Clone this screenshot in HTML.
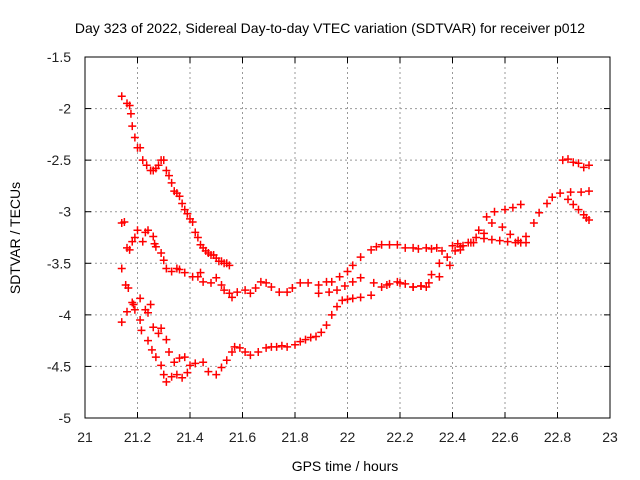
<!DOCTYPE html>
<html><head><meta charset="utf-8">
<style>
body{margin:0;background:#fff;}
svg{display:block;font-family:"Liberation Sans",sans-serif;}
</style></head>
<body>
<svg id="chart" width="640" height="480">
<rect width="640" height="480" fill="#fff"/>
<text x="330" y="33" text-anchor="middle" font-size="14" fill="#000">Day 323 of 2022, Sidereal Day-to-day VTEC variation (SDTVAR) for receiver p012</text>
<g id="grid"></g>
<g id="marks"></g>
<rect x="85" y="57" width="525" height="361" fill="none" stroke="#000" stroke-width="1"/>
<g id="ticks"></g>
<text x="345" y="471" text-anchor="middle" font-size="14">GPS time / hours</text>
<text x="0" y="0" transform="translate(20,238) rotate(-90)" text-anchor="middle" font-size="14">SDTVAR / TECUs</text>
</svg>
<script>
const xTicks=[21,21.2,21.4,21.6,21.8,22,22.2,22.4,22.6,22.8,23];
const xTickLabels=["21","21.2","21.4","21.6","21.8","22","22.2","22.4","22.6","22.8","23"];
const yTicks=[-1.5,-2,-2.5,-3,-3.5,-4,-4.5,-5];
const yTickLabels=["-1.5","-2","-2.5","-3","-3.5","-4","-4.5","-5"];

const trackAX=[21.14,21.16,21.17,21.175,21.18,21.19,21.2,21.21,21.22,21.235,21.25,21.26,21.27,21.28,21.29,21.3,21.31,21.32,21.33,21.34,21.35,21.36,21.37,21.38,21.39,21.4,21.41,21.42,21.43,21.44,21.45,21.46,21.47,21.48,21.49,21.5,21.51,21.52,21.53,21.54,21.55];
const trackAY=[-1.88,-1.95,-1.97,-2.05,-2.17,-2.28,-2.38,-2.38,-2.5,-2.55,-2.6,-2.6,-2.58,-2.55,-2.5,-2.5,-2.6,-2.65,-2.72,-2.8,-2.82,-2.85,-2.92,-2.98,-3.02,-3.07,-3.1,-3.2,-3.25,-3.32,-3.35,-3.38,-3.4,-3.42,-3.42,-3.45,-3.48,-3.48,-3.5,-3.5,-3.52];

const trackBX=[21.14,21.15,21.16,21.17,21.18,21.19,21.2,21.22,21.23,21.24,21.26,21.265,21.27,21.29,21.3,21.31,21.33,21.35,21.36,21.38,21.41,21.43,21.44,21.45,21.48,21.5,21.52,21.53,21.55,21.56,21.58,21.61,21.63,21.65,21.67,21.69,21.71,21.74,21.77,21.79,21.82,21.85,21.89,21.92,21.94,21.97,22.0,22.02,22.05,22.09,22.11,22.13,22.16,22.19,22.22,22.25,22.27,22.3,22.32,22.34,22.36,22.4,22.42,22.44,22.47,22.5,22.53,22.56,22.6,22.63,22.66];
const trackBY=[-3.11,-3.1,-3.35,-3.37,-3.29,-3.25,-3.18,-3.29,-3.2,-3.18,-3.24,-3.31,-3.34,-3.4,-3.47,-3.55,-3.58,-3.55,-3.56,-3.59,-3.63,-3.63,-3.59,-3.68,-3.69,-3.64,-3.71,-3.76,-3.79,-3.83,-3.78,-3.76,-3.79,-3.74,-3.68,-3.69,-3.73,-3.78,-3.78,-3.74,-3.69,-3.69,-3.71,-3.68,-3.68,-3.63,-3.58,-3.52,-3.44,-3.37,-3.34,-3.32,-3.32,-3.32,-3.35,-3.35,-3.36,-3.35,-3.36,-3.35,-3.38,-3.33,-3.31,-3.33,-3.3,-3.18,-3.05,-3.0,-2.98,-2.96,-2.93];

const trackCX=[21.14,21.155,21.165,21.18,21.185,21.19,21.21,21.23,21.24,21.25,21.14,21.16,21.21,21.215,21.24,21.255,21.27,21.29,21.3,21.31,21.33,21.35,21.37,21.39,21.26,21.28,21.29,21.31,21.32,21.34,21.36,21.38,21.4,21.42,21.45,21.47,21.5,21.52,21.54,21.56,21.57,21.59,21.61,21.63,21.66,21.69,21.71,21.73,21.75,21.77,21.8,21.82,21.84,21.86,21.88,21.9,21.92,21.94,21.96,21.98,22.0,22.02,22.05,22.09,22.13,22.16,22.19,22.22,22.25,22.28,22.3,22.32,22.35,22.38,22.41,22.43,22.46,22.49,22.52,22.55,22.58,22.61,22.64,22.66,22.68,22.71,22.73,22.76,22.78,22.81,22.85,22.89,22.92];
const trackCY=[-3.55,-3.71,-3.74,-3.88,-3.9,-3.95,-3.84,-3.95,-3.98,-3.9,-4.07,-3.97,-4.05,-4.15,-4.25,-4.34,-4.41,-4.49,-4.58,-4.65,-4.6,-4.58,-4.61,-4.56,-4.12,-4.18,-4.13,-4.24,-4.36,-4.46,-4.42,-4.41,-4.49,-4.47,-4.46,-4.55,-4.58,-4.51,-4.44,-4.36,-4.31,-4.32,-4.36,-4.39,-4.36,-4.32,-4.31,-4.31,-4.3,-4.31,-4.29,-4.26,-4.24,-4.22,-4.21,-4.17,-4.1,-4.0,-3.92,-3.86,-3.85,-3.84,-3.83,-3.81,-3.73,-3.7,-3.68,-3.7,-3.73,-3.72,-3.73,-3.61,-3.5,-3.44,-3.38,-3.34,-3.3,-3.25,-3.26,-3.27,-3.28,-3.29,-3.3,-3.3,-3.24,-3.11,-3.01,-2.92,-2.86,-2.82,-2.81,-2.81,-2.8];

const trackDX=[21.89,21.93,21.96,21.99,22.02,22.05,22.1,22.15,22.2,22.25,22.28,22.31,22.35,22.39,22.43,22.48,22.52,22.55,22.59,22.62,22.65,22.68];
const trackDY=[-3.79,-3.78,-3.76,-3.72,-3.68,-3.64,-3.69,-3.71,-3.69,-3.73,-3.72,-3.69,-3.63,-3.52,-3.37,-3.3,-3.21,-3.11,-3.15,-3.22,-3.28,-3.3];

const trackEX=[22.84,22.86,22.88,22.9,22.91,22.92];
const trackEY=[-2.88,-2.93,-2.98,-3.03,-3.06,-3.08];

const trackFX=[22.82,22.84,22.86,22.88,22.9,22.92];
const trackFY=[-2.5,-2.49,-2.52,-2.53,-2.57,-2.55];

const X0=85,X1=610,Y0=57,Y1=418;
function sx(v){return X0+(v-21)/2*(X1-X0);}
function sy(v){return Y0+(-1.5-v)/3.5*(Y1-Y0);}
const NS="http://www.w3.org/2000/svg";
function mk(tag,attrs,parent){const e=document.createElementNS(NS,tag);for(const k in attrs)e.setAttribute(k,attrs[k]);parent.appendChild(e);return e;}
const grid=document.getElementById('grid'),ticks=document.getElementById('ticks'),marks=document.getElementById('marks');
xTicks.forEach((t,i)=>{
  const x=sx(t);
  if(i>0&&i<xTicks.length-1){const g=mk('line',{x1:x,x2:x,y1:Y0,y2:Y1,stroke:'#999','stroke-dasharray':'2,3'},grid);
  
  }
  mk('line',{x1:x,x2:x,y1:Y1,y2:Y1-6,stroke:'#000'},ticks);
  mk('line',{x1:x,x2:x,y1:Y0,y2:Y0+6,stroke:'#000'},ticks);
  const tx=mk('text',{x:x,y:442,'text-anchor':'middle','font-size':'14',fill:'#222'},ticks);
  tx.textContent=xTickLabels[i];
  
  
});
yTicks.forEach((t,i)=>{
  const y=sy(t);
  if(i>0&&i<yTicks.length-1){const g=mk('line',{x1:X0,x2:X1,y1:y,y2:y,stroke:'#999','stroke-dasharray':'2,3'},grid);
  
  }
  mk('line',{x1:X0,x2:X0+6,y1:y,y2:y,stroke:'#000'},ticks);
  mk('line',{x1:X1,x2:X1-6,y1:y,y2:y,stroke:'#000'},ticks);
  const tx=mk('text',{x:71,y:y+5,'text-anchor':'end','font-size':'14',fill:'#222'},ticks);
  tx.textContent=yTickLabels[i];
  
  
});
function drawTrack(xs,ys,name){
  for(let i=0;i<xs.length;i++){
    const x=sx(xs[i]),y=sy(ys[i]);
    const p=mk('path',{d:`M${x-4},${y}h8M${x},${y-4}v8`,stroke:'#f00','stroke-width':'1.5',fill:'none'},marks);
    
    
  }
}
drawTrack(trackAX,trackAY,'track-a');
drawTrack(trackBX,trackBY,'track-b');
drawTrack(trackCX,trackCY,'track-c');
drawTrack(trackDX,trackDY,'track-d');
drawTrack(trackEX,trackEY,'track-e');
drawTrack(trackFX,trackFY,'track-f');
</script>
</body></html>
